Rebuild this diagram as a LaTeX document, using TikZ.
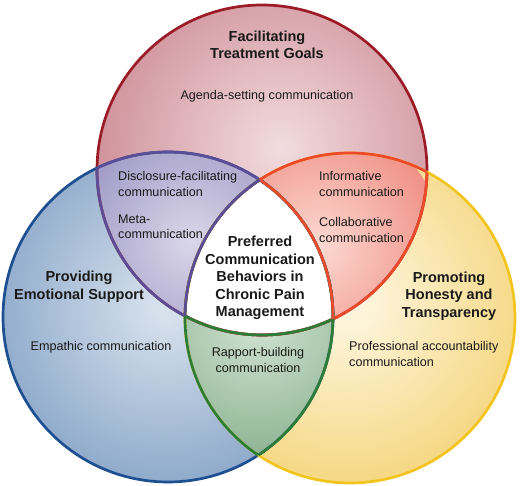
\documentclass[tikz,border=0pt]{standalone}
\usepackage{fontspec}
\setmainfont{Liberation Sans}
\usetikzlibrary{calc,positioning}
\definecolor{ink}{HTML}{1A1A1A}
\definecolor{topOut}{RGB}{205,140,149}
\definecolor{topIn}{RGB}{242,220,223}
\definecolor{leftOut}{RGB}{130,160,197}
\definecolor{leftIn}{RGB}{218,228,238}
\definecolor{rightOut}{RGB}{245,212,120}
\definecolor{rightIn}{RGB}{254,248,230}
\definecolor{purpOut}{RGB}{158,152,197}
\definecolor{purpIn}{RGB}{218,215,233}
\definecolor{salmOut}{RGB}{240,145,135}
\definecolor{salmIn}{RGB}{252,218,210}
\definecolor{grnOut}{RGB}{142,180,148}
\definecolor{grnIn}{RGB}{208,226,208}
\definecolor{topLine}{HTML}{9B1C26}
\definecolor{leftLine}{HTML}{1D4F91}
\definecolor{rightLine}{HTML}{F2C51E}
\definecolor{purpleLine}{HTML}{5B4D96}
\definecolor{orangeLine}{HTML}{EC4A2A}
\definecolor{greenLine}{HTML}{2E7D36}
\newcommand{\ringr}{165pt}
\tikzset{
  ring/.style={line width=2.7pt},
  ttl/.style={font=\fontsize{14.5}{17.6}\selectfont\bfseries, align=center, text=ink, inner sep=0pt},
  txt/.style={font=\fontsize{12.6}{15.3}\selectfont, align=left, text=ink, inner sep=0pt},
  txtc/.style={txt, align=center},
}

\begin{document}
\begin{tikzpicture}[x=1pt,y=1pt]
\useasboundingbox (0,0) rectangle (520,486);
\coordinate (T) at (262,316);
\coordinate (L) at (168,169);
\coordinate (R) at (350,168);
% circle fills
\begin{scope}\clip (T) circle (\ringr); \shade[inner color=topIn, outer color=topOut] (280,338) circle (200pt);\end{scope}
\begin{scope}\clip (L) circle (\ringr); \shade[inner color=leftIn, outer color=leftOut] (165,178) circle (205pt);\end{scope}
\begin{scope}\clip (R) circle (\ringr); \shade[inner color=rightIn, outer color=rightOut] (345,185) circle (205pt);\end{scope}
% overlaps
\begin{scope}\clip (T) circle (\ringr); \clip (L) circle (\ringr);
  \shade[inner color=purpIn, outer color=purpOut] (190,245) circle (125pt);\end{scope}
\begin{scope}\clip (T) circle (\ringr); \clip (R) circle (\ringr);
  \shade[inner color=salmIn, outer color=salmOut] (318,240) circle (125pt);\end{scope}
\begin{scope}\clip (L) circle (\ringr); \clip (R) circle (\ringr);
  \shade[inner color=grnIn, outer color=grnOut] (258,160) circle (130pt);\end{scope}
\begin{scope}\clip (T) circle (\ringr); \clip (L) circle (\ringr); \fill[white] (R) circle (\ringr);\end{scope}
% rings, then recoloured parts
\foreach \c/\col in {T/topLine, L/leftLine, R/rightLine} {\draw[ring, \col] (\c) circle (\ringr);}
\foreach \a/\b/\col in {T/L/purpleLine, T/R/orangeLine, L/T/purpleLine, L/R/greenLine, R/T/orangeLine, R/L/greenLine}
  {\begin{scope}\clip (\b) circle (\ringr); \draw[ring, \col] (\a) circle (\ringr);\end{scope}}
\foreach \a/\b/\d/\col in {T/L/R/greenLine, L/T/R/orangeLine, R/T/L/purpleLine}
  {\begin{scope}\clip (\b) circle (\ringr); \clip (\d) circle (\ringr); \draw[ring, \col] (\a) circle (\ringr);\end{scope}}
% labels
\node[ttl] (goals) at (267,441) {Facilitating\\Treatment Goals};
\node[txtc] (agenda) at (267,390) {Agenda-setting communication};
\node[txt, anchor=west] (disclose) at (118,302) {Disclosure-facilitating\\communication};
\node[txt, anchor=west] (meta) at (118,259) {Meta-\\communication};
\node[txt, anchor=west] (inform) at (319,302) {Informative\\communication};
\node[txt, anchor=west] (collab) at (319,256) {Collaborative\\communication};
\node[ttl] (core) at (260,208) {Preferred\\Communication\\Behaviors in\\Chronic Pain\\Management};
\node[ttl] (emot) at (79,199) {Providing\\Emotional Support};
\node[txtc] (empath) at (101,139) {Empathic communication};
\node[txtc] (rapport) at (258,126) {Rapport-building\\communication};
\node[ttl] (honest) at (449,190) {Promoting\\Honesty and\\Transparency};
\node[txt, anchor=west] (account) at (349,132) {Professional accountability\\communication};
\end{tikzpicture}
\end{document}
